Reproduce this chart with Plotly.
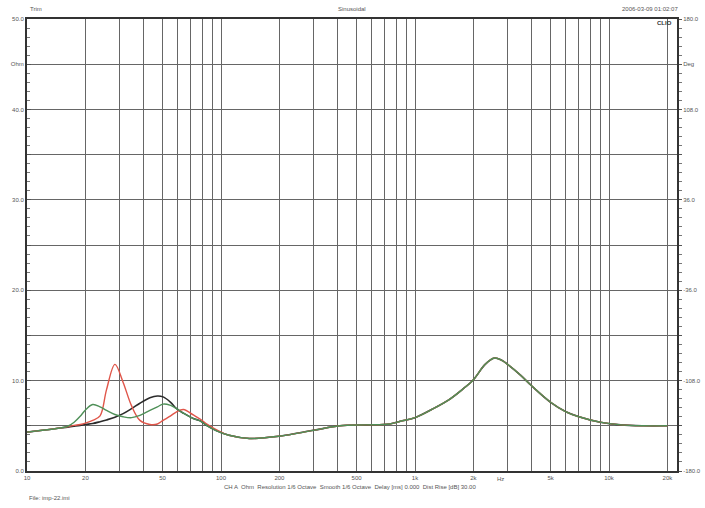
import math
import plotly.graph_objects as go

# ---- data ----
freq_hz = [10, 12, 14.8, 16.2, 17.5, 18.8, 20, 21.8, 23.8, 25.7, 28.4, 31.3, 34.6, 38.2, 43, 47, 50.3,
           55, 59, 64, 72, 78, 85, 95, 110, 140, 200, 300, 410, 560, 740, 840, 1000, 1230, 1500,
           1750, 2000, 2300, 2570, 2800, 3000, 3500, 4000, 5000, 6000, 7000, 9000, 11500, 15000, 20000]

common_hi = [3.95, 3.6, 3.85, 4.5, 5.0, 5.1, 5.2, 5.5, 5.9, 6.85, 7.9, 9.0, 10.1, 11.8, 12.5,
             12.25, 11.8, 10.6, 9.4, 7.6, 6.55, 6.0, 5.4, 5.1, 5.0, 5.0]

black_ohm = [4.3, 4.5, 4.75, 4.85, 4.95, 5.05, 5.15, 5.25, 5.45, 5.65, 5.95, 6.35, 6.9, 7.5, 8.1, 8.3, 8.2,
             7.6, 6.9, 6.4, 5.8, 5.55, 5.0, 4.45] + common_hi
green_ohm = [4.3, 4.5, 4.75, 4.95, 5.4, 6.05, 6.75, 7.35, 7.1, 6.7, 6.25, 6.0, 5.9, 6.15, 6.7, 7.1, 7.4,
             7.25, 6.9, 6.4, 5.8, 5.55, 5.0, 4.45] + common_hi
red_ohm = [4.3, 4.5, 4.75, 4.9, 5.05, 5.15, 5.3, 5.6, 6.1, 9.0, 11.8, 9.8, 7.2, 5.6, 5.15, 5.2, 5.6,
           6.1, 6.55, 6.8, 6.2, 5.75, 5.15, 4.55] + common_hi

x_tick_vals = [m * 10 ** e for e in range(1, 5) for m in range(1, 10)]
x_tick_vals = [v for v in x_tick_vals if v <= 20000]
x_labels = {10: "10", 20: "20", 50: "50", 100: "100", 200: "200", 500: "500",
            1000: "1k", 2000: "2k", 5000: "5k", 10000: "10k", 20000: "20k"}
x_tick_text = [x_labels.get(v, "") for v in x_tick_vals]

y_tick_vals = [0, 5, 10, 15, 20, 25, 30, 35, 40, 45, 50]
y_tick_text = ["0.0", "", "10.0", "", "20.0", "", "30.0", "", "40.0", "Ohm", "50.0"]
y2_tick_vals = [-180, -144, -108, -72, -36, 0, 36, 72, 108, 144, 180]
y2_tick_text = ["-180.0", "", "-108.0", "", "-36.0", "", "36.0", "", "108.0", "Deg", "180.0"]

FONT = "Liberation Sans, Arial, sans-serif"
TXT = "#555555"
GRID = "#666666"

W, H = 705, 508
PL, PR, PT, PB = 27, 677, 19, 471          # plot area in page pixels
PW, PH = PR - PL, PB - PT


def px(xp):
    return (xp - PL) / PW


def py(yp):
    return 1 - (yp - PT) / PH


fig = go.Figure()
fig.add_trace(go.Scatter(x=[], y=[], yaxis="y2", showlegend=False, hoverinfo="skip"))
fig.add_trace(go.Scatter(x=freq_hz, y=black_ohm, mode="lines", line=dict(color="#2b2b2b", width=1.6, shape="spline", smoothing=1.0), showlegend=False))
fig.add_trace(go.Scatter(x=freq_hz, y=red_ohm, mode="lines", line=dict(color="#e0564a", width=1.4, shape="spline", smoothing=1.0), showlegend=False))
fig.add_trace(go.Scatter(x=freq_hz, y=green_ohm, mode="lines", line=dict(color="#4f9058", width=1.4, shape="spline", smoothing=1.0), showlegend=False))

fig.update_layout(
    width=W, height=H,
    margin=dict(l=PL, r=W - PR, t=PT, b=H - PB, autoexpand=False),
    paper_bgcolor="white", plot_bgcolor="white",
    font=dict(family=FONT, size=6, color=TXT),
    xaxis=dict(type="log", range=[1, 1 + PW / 194.0], tickvals=x_tick_vals, ticktext=x_tick_text,
               showgrid=True, gridcolor=GRID, gridwidth=1, showline=True, linecolor="#333333",
               linewidth=2, mirror=True, ticks="", zeroline=False, automargin=False,
               tickfont=dict(size=6, color=TXT)),
    yaxis=dict(range=[0, 50], tickvals=y_tick_vals, ticktext=y_tick_text, showgrid=True,
               gridcolor=GRID, gridwidth=1, showline=True, linecolor="#333333", linewidth=2,
               ticks="inside", ticklen=4, tickcolor="#555555", zeroline=False, automargin=False,
               minor=dict(dtick=1, ticks="inside", ticklen=3, tickcolor="#777777", showgrid=False),
               tickfont=dict(size=6, color=TXT)),
    yaxis2=dict(range=[-180, 180], overlaying="y", side="right", tickvals=y2_tick_vals,
                ticktext=y2_tick_text, showgrid=False, showline=True, linecolor="#333333",
                linewidth=2, ticks="outside", ticklen=3, tickcolor="#555555", zeroline=False,
                automargin=False,
                minor=dict(dtick=7.2, ticks="outside", ticklen=3, tickcolor="#777777"),
                tickfont=dict(size=6, color=TXT)),
)

annots = [
    dict(text="Trim", x=28, y=9, xanchor="left"),
    dict(text="Sinusoidal", x=352, y=9, xanchor="center"),
    dict(text="2006-03-09 01:02:07", x=680, y=9, xanchor="right"),
    dict(text="CH A  Ohm  Resolution 1/6 Octave  Smooth 1/6 Octave  Delay [ms] 0.000  Dist Rise [dB] 30.00",
         x=350, y=487, xanchor="center"),
    dict(text="File: imp-22.imi", x=27, y=498, xanchor="left"),
]
for a in annots:
    fig.add_annotation(text=a["text"], xref="paper", yref="paper", x=px(a["x"]), y=py(a["y"]),
                       xanchor=a["xanchor"], yanchor="middle", showarrow=False,
                       font=dict(size=6, color=TXT, family=FONT))
fig.add_annotation(text="Hz", xref="x", yref="paper", x=math.log10(2750), y=py(479),
                   yanchor="middle", showarrow=False, font=dict(size=6, color=TXT, family=FONT))
fig.add_annotation(text="<b>CLIO</b>", xref="paper", yref="paper", x=px(674), y=py(23),
                   xanchor="right", yanchor="middle", showarrow=False,
                   font=dict(size=6, color="#333333", family=FONT))

fig.write_html("out.html", config={"displayModeBar": False},
               post_script="document.body.style.margin='0px';")
